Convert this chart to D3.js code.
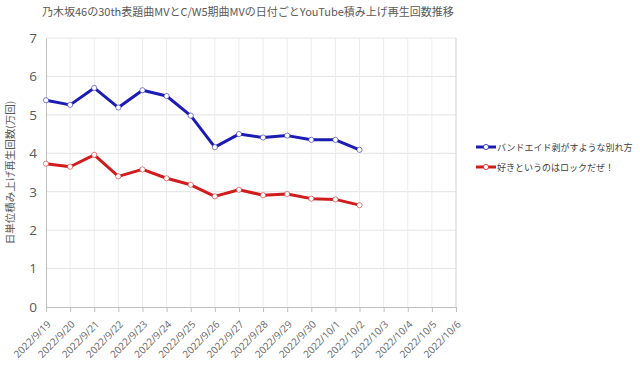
<!DOCTYPE html>
<html>
<head>
<meta charset="utf-8">
<script src="https://cdn.jsdelivr.net/npm/d3@7"></script>
<style>
  body { margin: 0; background: #fff; }
  text { font-family: "Noto Sans CJK JP", "Noto Sans", sans-serif; }
</style>
</head>
<body>
<div id="container"></div>
<script>
const w = 640;
const h = 372;
const margin = {left: 46, right: 184, top: 38, bottom: 65};

// data
let dates = ["2022/9/19", "2022/9/20", "2022/9/21", "2022/9/22", "2022/9/23", "2022/9/24",
  "2022/9/25", "2022/9/26", "2022/9/27", "2022/9/28", "2022/9/29", "2022/9/30",
  "2022/10/1", "2022/10/2", "2022/10/3", "2022/10/4", "2022/10/5", "2022/10/6"];
let bandaidValues = [5.38, 5.26, 5.70, 5.19, 5.64, 5.49, 4.98, 4.16, 4.50, 4.41, 4.46, 4.35, 4.35, 4.09];
let rockValues = [3.73, 3.65, 3.96, 3.40, 3.58, 3.35, 3.18, 2.88, 3.05, 2.91, 2.94, 2.82, 2.80, 2.65];
let seriesNames = ["バンドエイド剥がすような別れ方", "好きというのはロックだぜ！"];
let seriesColors = ["#1c1cb4", "#d01c1c"];
let yTicks = [0, 1, 2, 3, 4, 5, 6, 7];

let series = [
  {name: seriesNames[0], color: seriesColors[0], values: bandaidValues},
  {name: seriesNames[1], color: seriesColors[1], values: rockValues}
];

let xScale = d3.scalePoint().domain(dates).range([margin.left, w - margin.right]);
let yScale = d3.scaleLinear().domain([0, 7]).range([h - margin.bottom, margin.top]);

let viz = d3.select("#container").append("svg").attr("width", w).attr("height", h);

// title
viz.append("text")
  .attr("x", 42).attr("y", 16)
  .attr("font-size", 11).attr("fill", "#595959")
  .text("乃木坂46の30th表題曲MVとC/W5期曲MVの日付ごとYouTube積み上げ再生回数推移");

// grid
viz.append("g").selectAll("line").data(yTicks.slice(1)).enter().append("line")
  .attr("x1", margin.left).attr("x2", w - margin.right)
  .attr("y1", d => yScale(d)).attr("y2", d => yScale(d))
  .attr("stroke", "#e3e3e3").attr("stroke-width", 1);
viz.append("g").selectAll("line").data(dates.slice(1)).enter().append("line")
  .attr("x1", d => xScale(d)).attr("x2", d => xScale(d))
  .attr("y1", margin.top).attr("y2", h - margin.bottom)
  .attr("stroke", d => d == dates[dates.length - 1] ? "#d0d0d0" : "#ececec").attr("stroke-width", 1);

// axes
let yAxis = d3.axisLeft(yScale).tickValues(yTicks).tickFormat(d3.format("d")).tickSize(0).tickPadding(9);
let yAxisGroup = viz.append("g").attr("transform", "translate(" + margin.left + ",0)").call(yAxis);
yAxisGroup.select(".domain").attr("stroke", "#bfbfbf");
yAxisGroup.selectAll("text").attr("font-size", 13.5).attr("fill", "#595959")
  .style("font-family", "'Open Sans', sans-serif");

let xAxis = d3.axisBottom(xScale).tickSize(5).tickSizeOuter(0);
let xAxisGroup = viz.append("g").attr("transform", "translate(0," + (h - margin.bottom) + ")").call(xAxis);
xAxisGroup.select(".domain").attr("stroke", "#bfbfbf");
xAxisGroup.selectAll("line").attr("stroke", "#bfbfbf");
xAxisGroup.selectAll("text")
  .attr("font-size", 10).attr("fill", "#666666")
  .style("font-family", "'Open Sans', sans-serif")
  .attr("text-anchor", "end")
  .attr("x", 0).attr("y", 0).attr("dy", 0)
  .attr("transform", "translate(5,18) rotate(-45)");

// y title
viz.append("text")
  .attr("transform", "translate(14," + ((margin.top + h - margin.bottom) / 2) + ") rotate(-90)")
  .attr("text-anchor", "middle")
  .attr("font-size", 10.5).attr("fill", "#595959")
  .text("日単位積み上げ再生回数(万回)");

// lines
let line = d3.line().x((d, i) => xScale(dates[i])).y(d => yScale(d));
series.forEach(function(s){
  viz.append("path").datum(s.values)
    .attr("d", line).attr("fill", "none")
    .attr("stroke", s.color).attr("stroke-width", 3).attr("stroke-linejoin", "round");
  viz.append("g").selectAll("circle").data(s.values).enter().append("circle")
    .attr("cx", (d, i) => xScale(dates[i])).attr("cy", d => yScale(d))
    .attr("r", 2.6).attr("fill", "#fff")
    .attr("stroke", s.color).attr("stroke-opacity", 0.7).attr("stroke-width", 0.8);
});

// legend
let legend = viz.append("g").selectAll("g").data(series).enter().append("g")
  .attr("transform", (d, i) => "translate(476," + (147 + i * 20) + ")");
legend.append("line").attr("x1", 0).attr("x2", 20).attr("y1", 0).attr("y2", 0)
  .attr("stroke", d => d.color).attr("stroke-width", 3);
legend.append("circle").attr("cx", 10).attr("cy", 0).attr("r", 2.6)
  .attr("fill", "#fff").attr("stroke", d => d.color).attr("stroke-width", 0.8);
legend.append("text").attr("x", 21).attr("y", 3.5)
  .attr("font-size", 9).attr("fill", "#404040")
  .text(d => d.name);
</script>
</body>
</html>
